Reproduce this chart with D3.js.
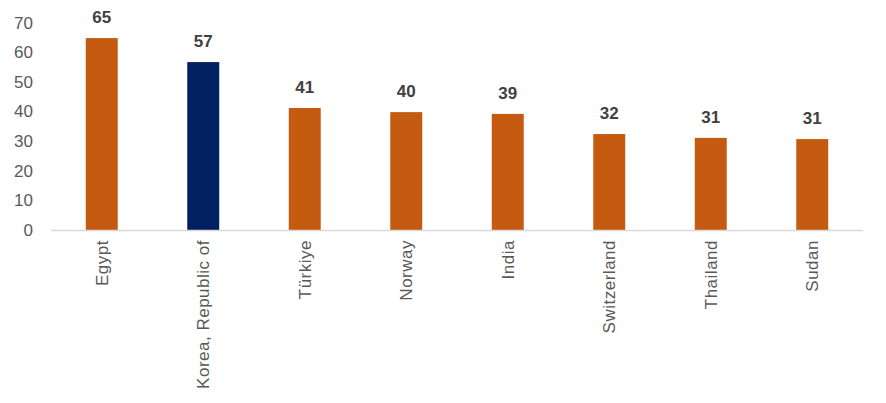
<!DOCTYPE html>
<html><head><meta charset="utf-8">
<script src="https://cdn.jsdelivr.net/npm/d3@7"></script>
<style>body{margin:0;background:#fff;} text{font-family:"Liberation Sans",Arial,sans-serif;}</style>
</head><body><svg id="c" width="886" height="403"></svg>
<script>
const categories = ["Egypt","Korea, Republic of","Türkiye","Norway","India","Switzerland","Thailand","Sudan"];
const values = [64.8, 56.7, 41.2, 39.8, 39.2, 32.4, 31.1, 30.7];
const highlight = ["Korea, Republic of"];
const yTicks = [0,10,20,30,40,50,60,70];

const svg = d3.select("#c");
const x = d3.scaleBand().domain(categories).range([51, 863]).paddingInner(0.685).paddingOuter(0.3425);
const y = d3.scaleLinear().domain([0,70]).range([230, 22.7]);

svg.append("g").selectAll("text").data(yTicks).join("text")
  .attr("x", 33).attr("y", d => y(d)).attr("dy","0.35em")
  .attr("text-anchor","end").attr("font-size",17).attr("fill","#595959")
  .text(d => d);

const data = categories.map((c,i)=>({c, v: values[i]}));
svg.append("g").selectAll("rect").data(data).join("rect")
  .attr("x", d => x(d.c)).attr("width", x.bandwidth())
  .attr("y", d => y(d.v)).attr("height", d => y(0) - y(d.v))
  .attr("fill", d => highlight.includes(d.c) ? "#002060" : "#C55A11");

svg.append("g").selectAll("text").data(data).join("text")
  .attr("x", d => x(d.c) + x.bandwidth()/2).attr("y", d => y(d.v) - 15)
  .attr("text-anchor","middle").attr("font-size",17).attr("font-weight","bold").attr("fill","#404040")
  .text(d => Math.round(d.v));

const xa = svg.append("g").attr("transform","translate(0,230)")
  .call(d3.axisBottom(x).tickSize(0).tickSizeOuter(0));
xa.select(".domain").attr("stroke","#d9d9d9").attr("stroke-width",1.5).attr("d","M51,0.5H863");
xa.selectAll(".tick text")
  .attr("font-size",17).attr("fill","#595959").attr("font-family","Liberation Sans, Arial, sans-serif")
  .attr("letter-spacing","0.5px")
  .attr("transform","rotate(-90)").attr("text-anchor","end")
  .attr("x",-10).attr("y",0).attr("dy","0.35em");
</script></body></html>
